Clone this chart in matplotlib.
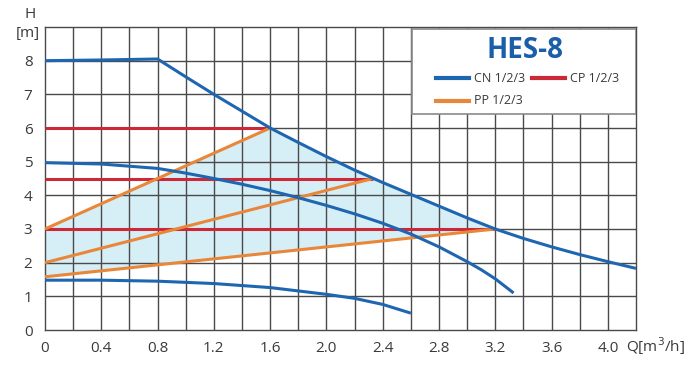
import matplotlib
matplotlib.use('Agg')
import matplotlib.pyplot as plt
from matplotlib.patches import Rectangle, Polygon
import numpy as np

plt.rcParams['font.family'] = ['Open Sans', 'DejaVu Sans']

# CN curves (speed 3 / 2 / 1)
cn3_q = [0, 0.4, 0.8, 1.0, 1.2, 1.4, 1.6, 1.8, 2.0, 2.2, 2.4, 2.6, 2.8, 3.0, 3.2, 3.4, 3.6, 3.8, 4.0, 4.2]
cn3_h = [8.0, 8.02, 8.05, 7.52, 7.0, 6.5, 6.0, 5.57, 5.15, 4.75, 4.38, 4.03, 3.68, 3.33, 3.0, 2.72, 2.47, 2.24, 2.03, 1.83]
cn2_q = [0, 0.4, 0.8, 1.0, 1.2, 1.4, 1.6, 1.8, 2.0, 2.2, 2.4, 2.6, 2.8, 3.0, 3.1, 3.2, 3.33]
cn2_h = [4.97, 4.93, 4.8, 4.66, 4.5, 4.33, 4.14, 3.93, 3.7, 3.45, 3.17, 2.85, 2.47, 2.03, 1.79, 1.52, 1.1]
cn1_q = [0, 0.4, 0.8, 1.2, 1.6, 2.0, 2.2, 2.4, 2.6]
cn1_h = [1.48, 1.48, 1.45, 1.38, 1.26, 1.06, 0.94, 0.76, 0.5]

# CP lines: constant head up to the max curve
cp_h = [6.0, 4.5, 3.0]
cp_qmax = [1.6, 2.33, 3.2]

# PP lines: proportional pressure
pp_q = [[0, 1.6], [0, 2.33], [0, 3.2]]
pp_h = [[3.0, 6.0], [2.0, 4.5], [1.58, 3.0]]

xticks = [0, 0.4, 0.8, 1.2, 1.6, 2.0, 2.4, 2.8, 3.2, 3.6, 4.0]
xlabels = ['0', '0.4', '0.8', '1.2', '1.6', '2.0', '2.4', '2.8', '3.2', '3.6', '4.0']

blue = '#1f66b1'
red = '#cc2838'
orange = '#e8873a'
gridc = '#4a4a4a'
txtc = '#3a3a3a'

fig = plt.figure(figsize=(6.86, 3.72), dpi=100)
ax = fig.add_axes([45/686, 1-330/372, (636-45)/686, (330-27)/372])
ax.set_xlim(0, 4.2)
ax.set_ylim(0, 9)

# shaded working area
poly = [(pp_q[0][0], pp_h[0][0]), (pp_q[0][1], pp_h[0][1])]
poly += [(q, h) for q, h in zip(cn3_q, cn3_h) if 1.6 < q < 3.2]
poly += [(pp_q[2][1], pp_h[2][1]), (pp_q[2][0], pp_h[2][0])]
ax.add_patch(Polygon(poly, closed=True, facecolor='#d6eef6', edgecolor='none', zorder=0))

for x in np.arange(0.2, 4.2, 0.2):
    ax.axvline(x, color=gridc, lw=1.0, zorder=1)
for y in range(1, 9):
    ax.axhline(y, color=gridc, lw=1.0, zorder=1)
for s in ax.spines.values():
    s.set_color(gridc)
    s.set_linewidth(1.0)

for h, qm in zip(cp_h, cp_qmax):
    ax.plot([0, qm], [h, h], color=red, lw=2.2, zorder=3, solid_capstyle='butt')
for q, h in zip(pp_q, pp_h):
    ax.plot(q, h, color=orange, lw=2.2, zorder=4, solid_capstyle='butt')
for q, h in [(cn3_q, cn3_h), (cn2_q, cn2_h), (cn1_q, cn1_h)]:
    ax.plot(q, h, color=blue, lw=2.2, zorder=5, solid_capstyle='butt')

ax.set_xticks(xticks)
ax.set_xticklabels(xlabels)
ax.set_yticks(range(0, 9))
ax.tick_params(length=0, labelsize=11, colors=txtc)
ax.tick_params(axis='x', pad=8)
ax.tick_params(axis='y', pad=9)

fig.text(30/686, 1-15/372, 'H', ha='center', va='center', fontsize=11, color=txtc)
fig.text(28/686, 1-33/372, '[m]', ha='center', va='center', fontsize=11, color=txtc)
fig.text(626/686, 1-346/372, 'Q[m$^3$/h]', ha='left', va='center', fontsize=11, color=txtc)

# legend box
x0, x1 = 412, 636
y0, y1 = 29, 114
ax.add_patch(Rectangle((x0/686, 1-y1/372), (x1-x0)/686, (y1-y0)/372, transform=fig.transFigure,
                       facecolor='white', edgecolor='#8a8a8a', lw=1.2, zorder=10))
fig.text(525/686, 1-50/372, 'HES-8', ha='center', va='center', fontsize=20, fontweight='bold',
         color='#1a5fa8', zorder=11)
items = [(436, 78, blue, 'CN 1/2/3'), (532, 78, red, 'CP 1/2/3'), (436, 101, orange, 'PP 1/2/3')]
for px, py, c, lab in items:
    fig.add_artist(plt.Line2D([px/686, (px+33)/686], [1-py/372, 1-py/372], color=c, lw=3,
                              transform=fig.transFigure, zorder=11))
    fig.text((px+38)/686, 1-py/372, lab, ha='left', va='center', fontsize=9, color=txtc, zorder=11)

fig.savefig('out.png', dpi=100)
